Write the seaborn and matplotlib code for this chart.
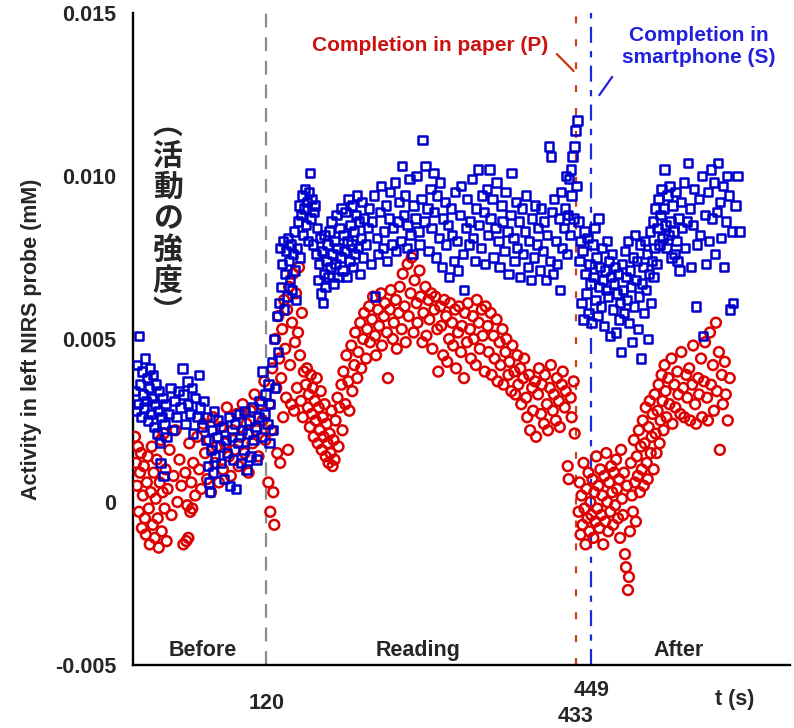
import matplotlib
matplotlib.use("Agg")
import matplotlib.pyplot as plt
import pandas as pd
import seaborn as sns

# ---------------- data (t in s, activity in 1e-3 mM) ----------------
paper_before = [(-13,2.0),(-12,1.2),(-11,0.5),(-10,1.7),(-9,-0.3),(-8,0.9),(-7,1.5),(-6,-0.8),(-5,0.2),(-4,1.1),
    (-3,-0.5),(-2,-1.0),(-1,0.6),(0,1.4),(1,-0.2),(2,-1.3),(3,0.3),(4,1.7),(5,-0.7),(6,0.9),(7,-1.1),(8,0.1),
    (9,1.3),(10,-0.5),(11,-1.4),(12,0.6),(13,1.9),(14,-0.9),(15,0.3),(16,2.1),(17,-0.2),(18,1.0),(19,-1.2),
    (20,0.4),(22,1.6),(24,-0.4),(26,0.8),(28,2.2),(30,0.0),(32,1.3),(34,0.5),(36,-1.3),(38,0.9),(39,-1.2),
    (40,-0.1),(41,-1.1),(42,1.8),(43,-0.3),(44,0.6),(45,-0.2),(46,1.2),(48,0.2),(50,2.0),(52,1.0),(54,0.4),
    (56,2.4),(58,1.5),(60,0.7),(62,1.9),(64,0.3),(66,2.6),(68,1.2),(70,1.7),(72,0.6),(74,2.3),(76,1.0),
    (78,1.8),(80,2.9),(82,1.4),(84,0.8),(86,2.2),(88,1.6),(90,2.7),(92,1.1),(94,2.0),(96,3.0),(98,1.5),
    (100,2.4),(102,0.9),(104,2.8),(106,1.8),(108,3.3),(110,2.2),(112,1.4),(114,3.0),(116,2.5),(118,3.7),(119,1.9)]

paper_reading = [(122,0.6),(123,3.0),(124,-0.3),(125,2.2),(126,4.1),(127,0.3),(128,-0.7),(129,5.0),(130,3.5),
    (131,1.5),(132,5.7),(133,4.4),(134,1.2),(135,3.8),(136,5.3),(137,2.6),(138,6.2),(139,4.7),(140,3.2),
    (141,5.9),(142,1.6),(143,6.6),(144,4.2),(145,3.0),(146,5.5),(147,7.0),(148,2.8),(149,4.9),(150,6.4),
    (151,3.5),(152,5.2),(153,7.2),(154,4.5),(155,3.1),(156,5.8),(157,2.6),(158,4.0),(160,3.6),(161,4.1),
    (162,2.9),(163,3.3),(164,2.3),(165,3.9),(166,2.7),(167,3.5),(168,2.0),(169,3.1),(170,2.5),(171,3.8),
    (172,1.8),(173,2.9),(174,2.2),(175,3.4),(176,1.6),(177,2.6),(178,2.0),(179,3.0),(180,1.4),(181,2.4),
    (182,1.8),(183,1.2),(184,2.1),(185,1.5),(186,2.8),(187,1.1),(188,1.9),(189,1.3),(190,2.5),(192,3.2),
    (193,1.7),(194,2.9),(196,3.6),(197,2.2),(198,4.0),(200,3.0),(201,4.5),(203,3.7),(204,2.8),(206,4.8),
    (207,3.4),(209,4.2),(210,5.2),(212,3.8),(213,4.6),(215,5.5),(216,4.1),(218,5.0),(219,5.8),(221,4.4),
    (222,5.3),(224,6.0),(225,4.9),(227,5.6),(228,6.3),(230,5.1),(231,4.5),(233,5.9),(234,5.4),(236,6.4),
    (237,4.8),(239,5.7),(240,6.1),(242,5.2),(243,3.8),(245,5.9),(246,6.5),(248,5.0),(249,5.5),(251,6.2),
    (252,4.7),(254,5.8),(255,6.6),(257,5.3),(258,7.0),(260,6.0),(261,4.9),(263,7.3),(264,5.7),(266,6.4),
    (267,7.5),(269,5.2),(270,6.8),(272,6.1),(273,5.5),(275,7.1),(276,6.3),(278,4.9),(279,5.8),(281,6.6),
    (282,5.1),(284,6.2),(285,5.6),(287,6.4),(288,4.7),(290,5.9),(291,6.3),(293,5.3),(294,4.0),(296,6.0),
    (297,5.4),(299,4.5),(300,6.2),(302,5.7),(303,4.3),(305,5.0),(306,6.1),(308,5.5),(309,4.8),(311,5.9),
    (312,4.1),(314,5.2),(315,6.0),(317,4.6),(318,5.4),(320,3.8),(321,5.8),(323,4.9),(324,6.1),(326,5.3),
    (327,4.4),(329,5.7),(330,5.0),(332,4.2),(333,6.2),(335,5.5),(336,4.7),(338,5.9),(339,5.1),(341,4.0),
    (342,6.0),(344,5.4),(345,4.6),(347,5.8),(348,3.9),(350,5.1),(351,4.4),(353,5.6),(354,3.7),(356,4.9),
    (357,4.2),(359,5.3),(360,3.6),(362,4.6),(363,5.0),(365,3.9),(366,4.3),(368,3.4),(369,4.8),(371,4.0),
    (372,3.3),(374,4.5),(375,3.6),(377,4.1),(378,3.0),(380,3.8),(381,4.4),(383,3.2),(384,2.6),(386,3.9),
    (387,2.2),(389,3.5),(390,2.8),(392,3.7),(393,2.0),(395,3.3),(396,4.1),(398,2.7),(399,3.6),(401,2.4),
    (402,3.9),(404,3.0),(405,2.2),(407,3.5),(408,4.2),(410,2.8),(411,3.3),(413,2.5),(414,3.8),(416,3.1),
    (417,2.3),(419,3.6),(420,4.0),(422,2.9),(423,3.4),(425,1.1),(426,0.7),(428,3.2),(429,2.6),(431,3.7),(432,2.1)]

paper_after = [(436,-0.3),(437,0.6),(438,-1.0),(439,0.2),(440,-0.7),(441,1.2),(442,-0.2),(443,-1.3),(444,0.4),
    (445,-0.5),(446,0.9),(447,-0.9),(448,0.0),(449,-0.4),(450,0.7),(451,-1.1),(452,0.3),(453,-0.6),(454,1.4),
    (455,-0.2),(456,0.5),(457,-0.8),(458,1.0),(459,-0.4),(460,0.2),(461,-1.3),(462,0.8),(463,-0.6),(464,1.5),
    (465,0.0),(466,-0.9),(467,0.6),(468,-0.3),(469,1.1),(470,0.3),(471,-0.7),(472,0.9),(473,-0.1),(474,1.3),
    (475,0.4),(476,-0.5),(477,0.7),(478,-1.1),(479,1.6),(480,0.1),(481,-0.4),(482,0.9),(483,-1.6),(484,-2.0),
    (485,0.5),(486,-2.7),(487,-2.3),(488,-0.9),(489,1.2),(490,0.2),(491,-0.3),(492,1.9),(493,0.6),(494,-0.6),
    (495,1.4),(496,0.8),(497,2.2),(498,0.3),(499,1.7),(500,1.0),(501,2.5),(502,0.5),(503,1.8),(504,2.9),
    (505,1.2),(506,0.7),(507,2.3),(508,3.1),(509,1.5),(510,2.0),(511,2.7),(512,1.0),(513,3.3),(514,2.1),
    (515,1.5),(516,2.8),(517,3.6),(518,1.8),(519,2.5),(520,3.9),(521,3.1),(522,2.2),(523,4.2),(524,3.4),
    (525,2.6),(527,3.8),(528,3.0),(530,4.4),(531,2.4),(533,3.6),(534,2.9),(536,4.0),(537,3.3),(539,2.7),
    (540,4.6),(542,3.5),(543,2.6),(545,3.9),(546,3.2),(548,4.1),(549,2.5),(551,3.6),(552,4.8),(554,3.0),
    (555,2.4),(557,3.8),(558,3.3),(560,4.4),(561,2.6),(563,3.7),(564,4.9),(566,3.2),(567,2.5),(569,5.2),
    (570,3.6),(572,4.2),(573,2.8),(575,5.5),(576,3.4),(578,4.6),(579,1.6),(581,3.9),(582,3.0),(584,4.3),
    (585,3.3),(587,2.5),(589,3.8)]

phone_before = [(-13,3.4),(-12,2.8),(-11,4.2),(-10,3.0),(-9,5.1),(-8,3.6),(-7,2.6),(-6,4.0),(-5,3.3),(-4,2.9),
    (-3,4.4),(-2,3.1),(-1,3.8),(0,2.5),(1,3.5),(2,4.1),(3,2.7),(4,3.2),(5,3.9),(6,2.3),(7,3.0),(8,3.6),
    (9,2.1),(10,2.8),(11,3.4),(12,1.8),(13,1.2),(14,2.6),(15,3.2),(16,0.8),(17,2.4),(18,3.0),(19,2.0),
    (21,2.7),(23,3.5),(25,2.2),(27,3.1),(29,2.6),(31,3.4),(33,2.9),(35,4.1),(36,3.3),(38,2.4),(40,3.7),
    (41,3.0),(43,2.7),(45,3.5),(46,2.1),(48,3.2),(50,2.6),(52,3.9),(53,2.9),(55,2.3),(57,3.1),(59,1.9),
    (60,2.6),(61,1.1),(62,0.6),(63,0.3),(64,1.6),(65,2.2),(66,0.9),(67,2.8),(68,1.4),(70,2.0),(71,2.5),
    (73,1.7),(74,1.2),(76,2.3),(77,0.7),(79,1.9),(80,1.5),(82,2.6),(83,0.5),(85,2.0),(86,1.3),(88,2.4),
    (89,0.4),(91,1.8),(92,2.7),(94,1.2),(95,2.2),(97,1.6),(98,2.8),(100,1.0),(101,2.1),(103,2.5),(104,1.4),
    (106,2.9),(107,1.9),(109,2.3),(110,1.3),(112,2.6),(113,3.1),(115,2.0),(116,4.0),(118,2.7),(119,3.3)]

phone_reading = [(121,2.4),(122,3.6),(123,1.8),(124,3.0),(126,4.3),(127,2.2),(128,5.0),(129,3.5),(131,5.7),
    (132,4.6),(133,6.1),(134,7.8),(135,6.6),(136,7.3),(137,8.0),(138,5.9),(139,7.0),(140,7.7),(141,6.3),
    (142,8.1),(143,7.4),(144,6.8),(145,7.9),(146,6.5),(147,7.6),(148,8.3),(149,7.1),(150,6.2),(151,7.8),
    (152,8.6),(153,9.1),(154,7.5),(155,8.8),(156,9.4),(157,8.2),(158,9.0),(159,9.6),(160,8.5),(161,9.2),
    (162,8.0),(163,9.5),(164,10.1),(165,8.7),(166,9.3),(167,7.9),(168,8.9),(169,9.1),(170,7.6),(171,8.4),
    (172,6.8),(173,7.3),(174,8.1),(175,6.4),(176,7.7),(177,6.1),(178,7.0),(179,8.2),(180,6.6),(181,7.4),
    (182,7.9),(183,6.9),(184,8.3),(185,7.2),(186,8.6),(187,7.6),(188,6.7),(189,8.0),(190,7.3),(191,8.8),
    (192,7.8),(193,6.9),(194,8.4),(195,7.5),(196,9.0),(197,7.1),(198,8.2),(199,7.7),(200,8.9),(201,6.9),
    (202,8.0),(203,9.3),(204,7.4),(205,8.5),(206,7.9),(207,9.1),(208,7.2),(209,8.3),(210,7.6),(211,8.8),
    (212,9.4),(213,7.8),(214,8.6),(215,7.0),(216,8.1),(217,9.2),(218,7.5),(219,8.7),(221,7.9),(223,8.4),
    (224,9.0),(226,7.3),(227,8.6),(229,9.4),(230,6.3),(232,8.1),(233,7.6),(235,8.9),(236,9.7),(238,7.8),
    (239,8.3),(241,9.1),(242,7.4),(244,8.7),(245,9.5),(247,7.9),(248,8.4),(250,9.8),(251,7.7),(253,8.6),
    (254,9.2),(256,8.0),(257,10.3),(259,8.8),(260,9.4),(262,7.8),(263,8.5),(265,9.9),(266,8.2),(268,7.6),
    (269,9.1),(271,8.7),(272,10.0),(274,8.3),(275,7.9),(277,9.3),(278,11.1),(280,8.6),(281,10.3),(283,9.0),
    (284,7.7),(286,9.6),(287,8.4),(289,10.1),(290,8.9),(292,7.5),(293,9.4),(295,8.1),(296,9.8),(298,7.2),
    (299,8.7),(301,9.2),(302,7.9),(304,8.5),(305,6.9),(307,9.0),(308,8.2),(310,7.4),(311,9.5),(313,8.0),
    (314,7.1),(316,8.8),(317,9.7),(319,7.6),(320,6.5),(322,8.4),(323,9.3),(325,7.9),(326,8.6),(328,9.9),
    (329,8.1),(331,7.4),(332,9.0),(334,10.2),(335,8.5),(337,7.8),(338,9.4),(340,8.9),(341,7.3),(343,9.6),
    (344,8.2),(346,10.2),(347,8.7),(349,9.3),(350,7.5),(352,8.4),(353,9.8),(355,8.0),(356,7.2),(358,9.1),
    (359,8.6),(361,7.7),(362,9.5),(364,8.3),(365,7.0),(367,8.8),(368,10.1),(370,8.1),(371,7.4),(373,9.2),
    (374,7.8),(376,8.6),(377,6.9),(379,9.0),(380,7.6),(382,8.3),(383,9.4),(385,7.2),(386,8.0),(388,6.8),
    (389,8.7),(391,7.5),(392,9.1),(394,7.9),(395,8.4),(397,7.1),(398,9.0),(400,7.7),(401,8.6),(403,6.8),
    (404,8.2),(406,10.9),(407,7.4),(408,10.6),(409,8.9),(410,7.0),(411,9.3),(413,8.0),(414,7.3),(416,8.7),
    (417,6.5),(418,9.5),(419,7.8),(421,8.4),(422,9.0),(423,10.0),(424,7.6),(425,8.8),(426,9.9),(427,8.2),
    (428,10.2),(429,9.4),(430,10.6),(431,8.7),(432,10.9),(433,11.4),(434,9.7),(435,11.7)]

phone_after = [(436,8.6),(437,7.4),(438,8.0),(439,6.1),(440,7.7),(441,5.6),(442,8.3),(443,7.0),(444,6.4),
    (445,8.1),(446,5.8),(447,7.3),(448,6.7),(449,5.5),(450,7.9),(451,6.9),(452,8.4),(453,6.2),(454,7.5),
    (455,5.7),(456,8.7),(457,6.6),(458,7.2),(459,6.0),(460,7.8),(461,6.8),(462,5.4),(463,7.1),(464,6.5),
    (465,8.0),(466,6.3),(467,7.4),(468,5.1),(469,6.9),(470,7.6),(471,5.9),(472,6.7),(473,7.2),(474,5.2),
    (475,6.4),(476,7.0),(477,5.6),(478,6.1),(479,4.6),(480,7.3),(481,6.5),(482,5.8),(483,7.7),(484,6.9),
    (485,6.2),(486,8.0),(487,5.5),(488,7.1),(489,6.6),(490,4.9),(491,7.5),(492,6.0),(493,8.2),(494,6.8),
    (495,7.4),(496,5.3),(497,6.3),(498,7.9),(499,4.4),(500,6.7),(501,7.2),(502,5.8),(503,8.0),(504,6.5),
    (505,7.6),(506,5.0),(507,7.0),(508,8.3),(509,6.1),(510,7.4),(511,8.6),(512,6.9),(513,7.8),(514,9.0),
    (515,7.3),(516,8.4),(517,9.3),(518,7.9),(519,8.8),(520,9.6),(521,8.1),(522,9.0),(523,10.2),(524,8.5),
    (525,7.8),(526,9.4),(527,8.2),(528,9.7),(529,8.6),(530,7.5),(531,9.1),(532,8.3),(533,7.6),(534,9.5),
    (535,8.0),(536,7.4),(537,8.7),(538,7.1),(540,9.2),(541,8.4),(543,9.8),(544,7.8),(546,8.6),(547,10.4),
    (549,9.0),(550,7.2),(552,8.5),(553,9.6),(555,6.0),(556,7.9),(558,9.3),(559,8.2),(561,10.0),(562,5.1),
    (564,8.8),(565,7.3),(567,9.5),(568,8.0),(570,10.2),(571,8.7),(573,9.8),(574,7.6),(576,8.9),(577,10.4),
    (579,9.2),(580,8.1),(582,9.7),(583,7.2),(585,8.6),(586,10.0),(588,9.4),(589,5.9),(591,8.3),(592,6.1),
    (595,9.1),(597,10.0),(599,8.3)]

event_times = [120, 433, 449]
event_labels = ["120", "433", "449"]
y_ticks = [-0.005, 0.0, 0.005, 0.010, 0.015]
y_ticklabels = ["-0.005", "0", "0.005", "0.010", "0.015"]
phase_labels = ["Before", "Reading", "After"]
phase_centers = [56, 274, 537]


def frame(parts, name):
    rows = [(t, v * 1e-3, name) for part in parts for (t, v) in part]
    return pd.DataFrame(rows, columns=["t", "activity", "condition"])


paper = frame([paper_before, paper_reading, paper_after], "paper")
phone = frame([phone_before, phone_reading, phone_after], "smartphone")

# ---------------- style ----------------
sns.set_style("white")
plt.rcParams["font.family"] = ["Liberation Sans", "DejaVu Sans"]
plt.rcParams["font.weight"] = "bold"
plt.rcParams["lines.scale_dashes"] = False

RED = "#dd0000"
BLUE = "#0000cc"
FS = 15.5

fig = plt.figure(figsize=(7.94, 7.28), dpi=100)
ax = fig.add_axes([133 / 794, 1 - 665 / 728, (790 - 133) / 794, (665 - 13) / 728])

sns.scatterplot(data=paper, x="t", y="activity", marker="o", s=50,
                facecolor="none", edgecolor=RED, linewidth=1.8, ax=ax, legend=False, zorder=3)
sns.scatterplot(data=phone, x="t", y="activity", marker="s", s=36,
                facecolor="none", edgecolor=BLUE, linewidth=1.8, ax=ax, legend=False, zorder=4)

ax.set_xlim(-15, 650)
ax.set_ylim(-0.005, 0.015)

for s in ["top", "right"]:
    ax.spines[s].set_visible(False)
for s in ["left", "bottom"]:
    ax.spines[s].set_linewidth(1.7)
    ax.spines[s].set_color("black")

ax.set_yticks(y_ticks, y_ticklabels)
ax.tick_params(axis="y", length=8, width=1.7, direction="out", labelsize=FS, pad=4)
ax.set_xticks(event_times, event_labels)
ax.tick_params(axis="x", length=0, labelsize=FS)
pads = {"120": 20, "433": 29.5, "449": 10.5}
for tick, lab in zip(ax.xaxis.get_major_ticks(), event_labels):
    tick.set_pad(pads[lab])

ax.set_xlabel("")
ax.set_ylabel("Activity in left NIRS probe (mM)", fontsize=FS, fontweight="bold")
ax.yaxis.set_label_coords(-0.138, 0.5)

# event lines
ax.axvline(event_times[0], color="#8c8c8c", lw=1.6, dashes=(10, 7), zorder=2)
ax.axvline(event_times[1], color="#c8401c", lw=1.6, dashes=(5, 11.5), zorder=2)
ax.axvline(event_times[2], color="#1a2ae0", lw=1.6, dashes=(11.5, 6, 4.5, 6), zorder=2)

# phase labels
for lab, c in zip(phase_labels, phase_centers):
    ax.text(c, -0.00457, lab, ha="center", va="center", fontsize=FS, fontweight="bold")

fig.text(735 / 794, 1 - 700 / 728, "t (s)", ha="center", va="center", fontsize=FS, fontweight="bold")

# annotations
ax.text(286, 0.0140, "Completion in paper (P)", color="#cc1111", ha="center", va="center",
        fontsize=FS - 0.5, fontweight="bold")
ax.annotate("", xy=(431, 0.01322), xytext=(414, 0.01374),
            arrowprops=dict(arrowstyle="-", color="#cc3311", lw=1.6, shrinkA=0, shrinkB=0))
ax.text(558, 0.01396, "Completion in\nsmartphone (S)", color="#2020dd", ha="center", va="center",
        fontsize=FS - 0.5, fontweight="bold", linespacing=1.2)
ax.annotate("", xy=(457, 0.01248), xytext=(470, 0.01304),
            arrowprops=dict(arrowstyle="-", color="#2020dd", lw=1.6, shrinkA=0, shrinkB=0))

# Japanese vertical label
ax.text(20, 0.0087, "︵\n活\n動\nの\n強\n度\n︶", ha="center", va="center", fontsize=21.5,
        family=["Noto Sans CJK JP", "DejaVu Sans"], fontweight="bold", linespacing=1.05, zorder=5)

fig.savefig("out.png", dpi=100, facecolor="white")
